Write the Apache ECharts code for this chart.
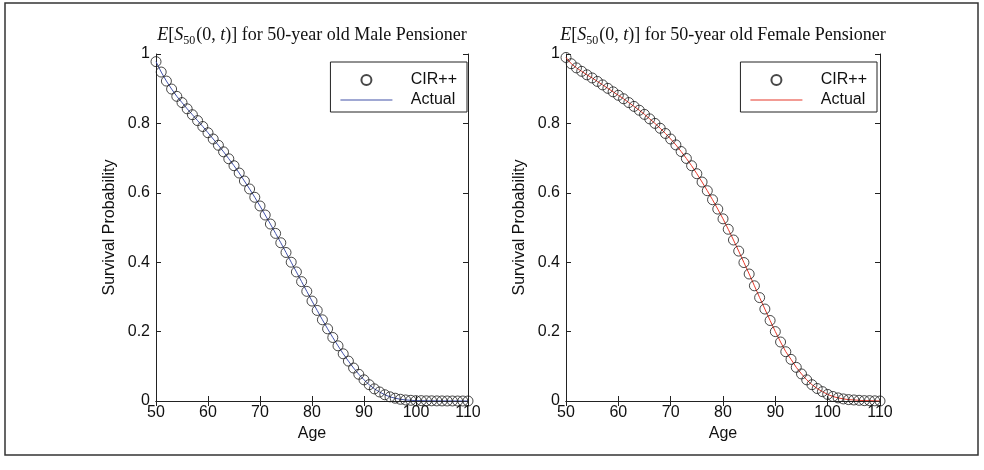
<!DOCTYPE html>
<html>
<head>
<meta charset="utf-8">
<script src="https://cdn.jsdelivr.net/npm/echarts@6/dist/echarts.min.js"></script>
<style>
html,body{margin:0;padding:0;background:#fff;}
#chart{width:984px;height:470px;}
</style>
</head>
<body>
<div id="chart"></div>
<script>
// ---- data ----
const ages = [];
for (let a = 50; a <= 110; a++) ages.push(a);

const maleValues = [
  0.978, 0.948, 0.922, 0.899, 0.878, 0.860, 0.842, 0.825, 0.808, 0.791,
  0.773, 0.755, 0.737, 0.718, 0.698, 0.678, 0.657, 0.634, 0.611, 0.587,
  0.562, 0.536, 0.510, 0.483, 0.456, 0.428, 0.400, 0.372, 0.344, 0.316,
  0.288, 0.261, 0.234, 0.208, 0.183, 0.159, 0.136, 0.115, 0.095, 0.077,
  0.061, 0.047, 0.035, 0.026, 0.018, 0.012, 0.008, 0.005, 0.003, 0.002,
  0.001, 0.001, 0.0005, 0.0005, 0.0003, 0.0002, 0.0001, 0.0001, 0, 0, 0
];
const femaleValues = [
  0.990, 0.972, 0.960, 0.950, 0.940, 0.931, 0.921, 0.911, 0.901, 0.891,
  0.881, 0.871, 0.860, 0.849, 0.838, 0.826, 0.813, 0.800, 0.786, 0.771,
  0.755, 0.738, 0.719, 0.699, 0.678, 0.655, 0.631, 0.606, 0.580, 0.553,
  0.525, 0.495, 0.464, 0.432, 0.399, 0.366, 0.332, 0.298, 0.265, 0.232,
  0.200, 0.170, 0.142, 0.120, 0.097, 0.078, 0.061, 0.047, 0.036, 0.027,
  0.019, 0.013, 0.009, 0.006, 0.004, 0.003, 0.002, 0.001, 0.001, 0.0005, 0
];
const xTicks = [50, 60, 70, 80, 90, 100, 110];
const yTicks = [0, 0.2, 0.4, 0.6, 0.8, 1];
const legendNames = ['CIR++', 'Actual'];
const titles = ['Male', 'Female'];

// ---- chart ----
const chart = echarts.init(document.getElementById('chart'), null, {renderer: 'canvas'});
const sans = '"Liberation Sans", Arial, sans-serif';
const serif = '"Liberation Serif", "DejaVu Serif", serif';
const pair = vals => ages.map((a, i) => [a, vals[i]]);

const grids = [
  {left: 156, top: 54, width: 312, height: 347},
  {left: 566, top: 54, width: 314, height: 347}
];

function titleFor(i, cx) {
  return {
    text: '{i|E}{n|[}{i|S}{s|50}{n|(0, }{i|t}{n|)] for 50-year old ' + titles[i] + ' Pensioner}',
    left: cx, top: 25, textAlign: 'center', padding: 0,
    textStyle: {
      fontFamily: serif, fontSize: 18, fontWeight: 'normal', color: '#111',
      rich: {
        i: {fontFamily: serif, fontSize: 18, fontStyle: 'italic', color: '#111', lineHeight: 20, verticalAlign: 'middle'},
        n: {fontFamily: serif, fontSize: 18, color: '#111', lineHeight: 20, verticalAlign: 'middle'},
        s: {fontFamily: serif, fontSize: 12, color: '#111', lineHeight: 20, verticalAlign: 'bottom', padding: [0, 1, -2, 0]}
      }
    }
  };
}

const xAxes = [], yAxes = [];
[0, 1].forEach(g => {
  const base = {
    type: 'value', gridIndex: g, min: xTicks[0], max: xTicks[xTicks.length - 1], interval: 10,
    axisLine: {show: true, lineStyle: {color: '#222', width: 1}},
    axisTick: {show: true, inside: true, length: 5, lineStyle: {color: '#222'}},
    splitLine: {show: false}
  };
  xAxes.push(Object.assign({}, base, {
    position: 'bottom',
    name: 'Age', nameLocation: 'middle', nameGap: 22,
    nameTextStyle: {fontFamily: sans, fontSize: 16, color: '#111'},
    axisLabel: {show: true, margin: 4, fontFamily: sans, fontSize: 16, color: '#111'}
  }));
  xAxes.push(Object.assign({}, base, {position: 'top', axisLabel: {show: false}}));
  const ybase = {
    type: 'value', gridIndex: g, min: yTicks[0], max: yTicks[yTicks.length - 1], interval: 0.2,
    axisLine: {show: true, lineStyle: {color: '#222', width: 1}},
    axisTick: {show: true, inside: true, length: 5, lineStyle: {color: '#222'}},
    splitLine: {show: false}
  };
  yAxes.push(Object.assign({}, ybase, {
    position: 'left',
    name: 'Survival Probability', nameLocation: 'middle', nameGap: 38,
    nameTextStyle: {fontFamily: sans, fontSize: 16, color: '#111'},
    axisLabel: {show: true, margin: 6, fontFamily: sans, fontSize: 16, color: '#111'}
  }));
  yAxes.push(Object.assign({}, ybase, {position: 'right', axisLabel: {show: false}}));
});

const lineColors = ['#4352a8', '#e5392b'];
const valuesByPlot = [maleValues, femaleValues];
const series = [];
[0, 1].forEach(g => {
  const suffix = g === 0 ? '' : ' ';
  series.push({
    name: legendNames[1] + suffix, type: 'line', xAxisIndex: g * 2, yAxisIndex: g * 2,
    data: pair(valuesByPlot[g]), symbol: 'none', showSymbol: false,
    lineStyle: {color: lineColors[g], width: 1}, itemStyle: {color: lineColors[g]},
    silent: true, animation: false, z: 2
  });
  series.push({
    name: legendNames[0] + suffix, type: 'scatter', xAxisIndex: g * 2, yAxisIndex: g * 2,
    data: pair(valuesByPlot[g]), symbol: 'circle', symbolSize: 10,
    itemStyle: {color: 'rgba(0,0,0,0)', borderColor: '#1a1a1a', borderWidth: 1},
    silent: true, animation: false, z: 3
  });
});

function legendFor(g, rightPx) {
  const suffix = g === 0 ? '' : ' ';
  return {
    orient: 'vertical', right: rightPx, top: 62,
    data: [
      {name: legendNames[0] + suffix, icon: 'circle'},
      {name: legendNames[1] + suffix, icon: 'path://M0,0 L52,0 L52,1 L0,1 Z'}
    ],
    formatter: n => '   ' + n.trim(),
    itemWidth: 52, itemHeight: 10, itemGap: 4, symbolKeepAspect: true,
    padding: [10, 10, 4, 10],
    borderColor: '#222', borderWidth: 1, backgroundColor: '#fff', borderRadius: 0,
    textStyle: {fontFamily: sans, fontSize: 16, color: '#111', lineHeight: 15},
    selectedMode: false
  };
}

chart.setOption({
  animation: false,
  backgroundColor: '#fff',
  title: [titleFor(0, 312), titleFor(1, 723)],
  grid: grids,
  xAxis: xAxes,
  yAxis: yAxes,
  legend: [legendFor(0, 984 - 467), legendFor(1, 984 - 877)],
  series: series,
  graphic: [{
    type: 'rect', shape: {x: 5, y: 3, width: 973, height: 452},
    style: {fill: 'none', stroke: '#333', lineWidth: 1.5}, z: -1, silent: true
  }]
});
</script>
</body>
</html>
